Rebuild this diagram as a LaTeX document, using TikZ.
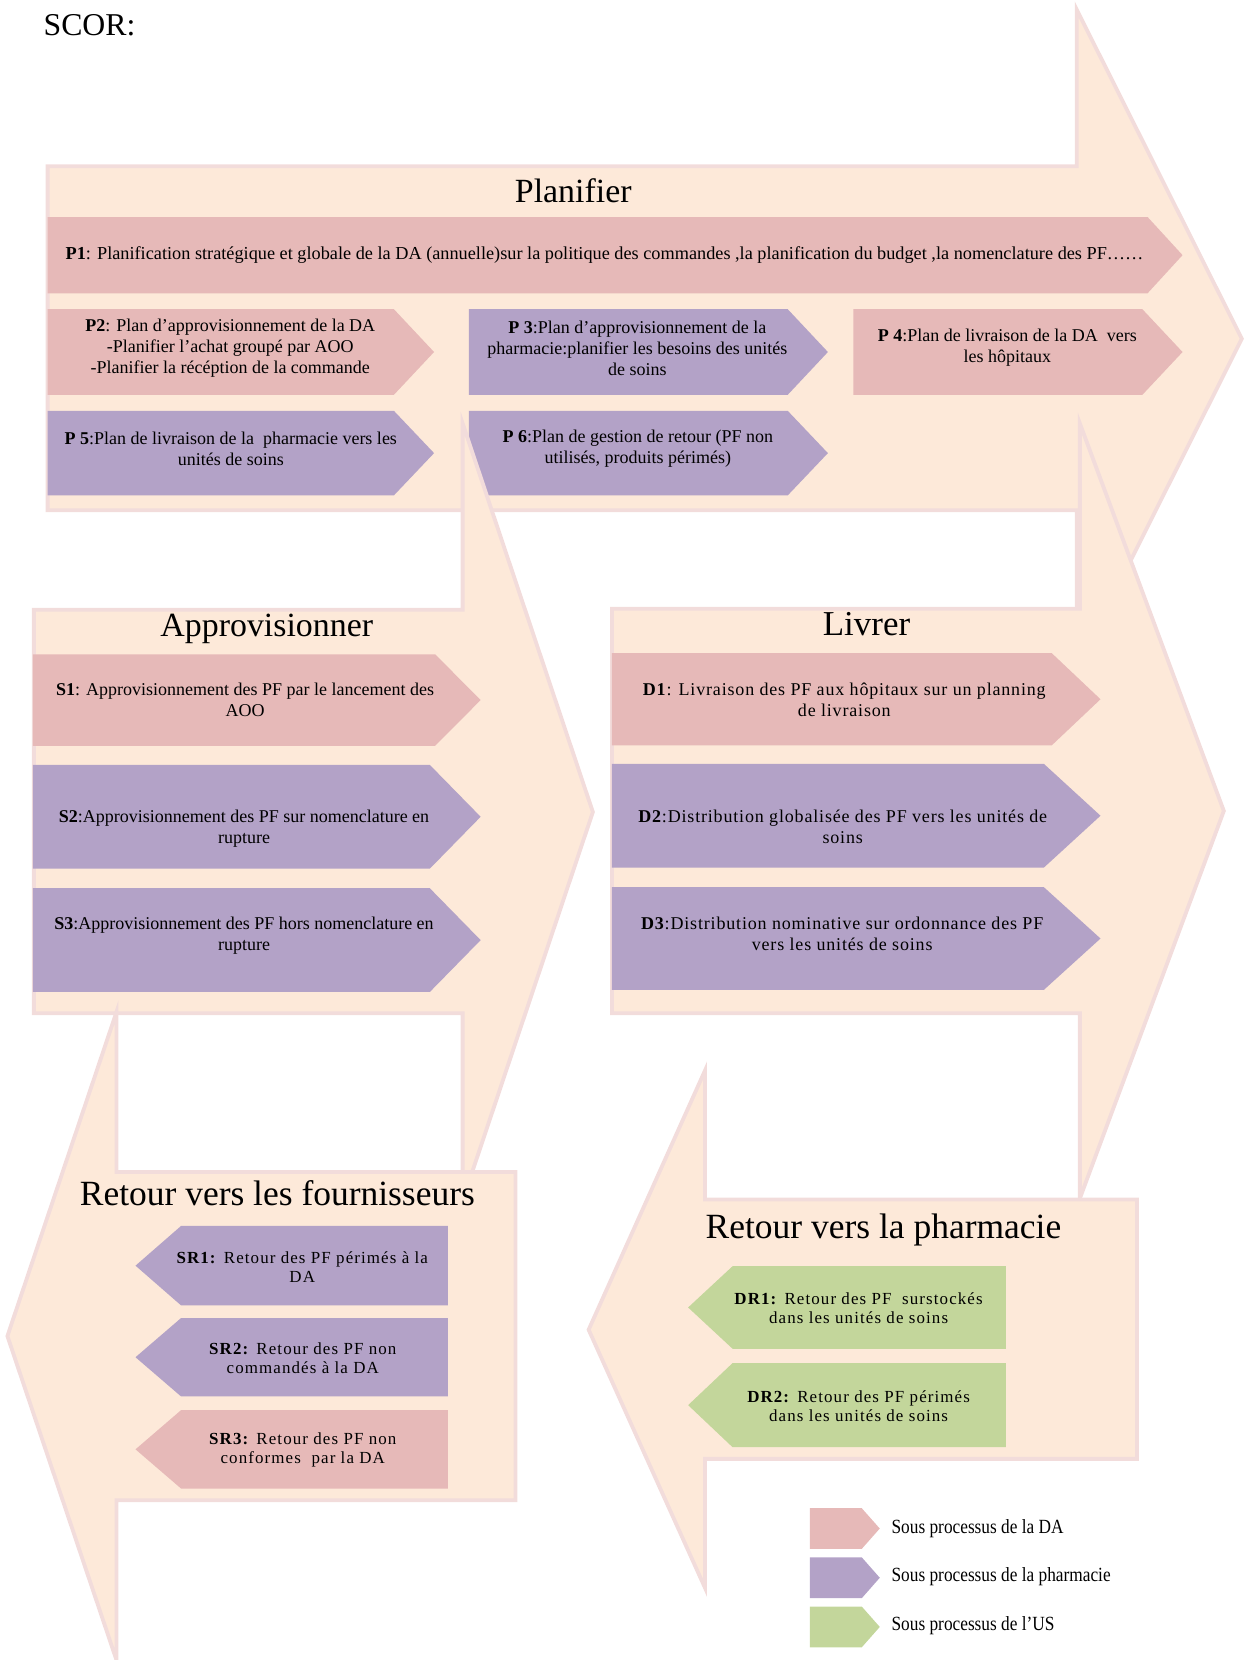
\documentclass[tikz,border=0pt]{standalone}
\usepackage{fontspec}
\setmainfont{Liberation Serif}
\newfontfamily\serifD[LetterSpace=4.6]{Liberation Serif}
\newfontfamily\serifR[LetterSpace=6.5]{Liberation Serif}
\newfontfamily\serifL[FakeStretch=0.86]{Liberation Serif}

\definecolor{peach}{HTML}{FDE9D9}
\definecolor{peachline}{HTML}{F2DCDB}
\definecolor{daPink}{HTML}{E6B9B8}
\definecolor{phPurple}{HTML}{B3A2C7}
\definecolor{usGreen}{HTML}{C3D69B}

% right-pointing process box: x1, y1, x of head start, x of tip, y2, colour
\newcommand\procR[6]{\fill[#6] (#1,#2) -- (#3,#2) -- (#4,{(#2+#5)/2}) -- (#3,#5) -- (#1,#5) -- cycle;}
% left-pointing process box: x of tip, x of head end, x2, y1, y2, colour
\newcommand\procL[6]{\fill[#6] (#1,{(#4+#5)/2}) -- (#2,#4) -- (#3,#4) -- (#3,#5) -- (#2,#5) -- cycle;}

\tikzset{
  bigarrow/.style={fill=peach, draw=peachline, line width=3.6pt, line join=miter},
  arrowtitle/.style={anchor=base, inner sep=0pt, font=\fontsize{32}{36}\selectfont},
  bigtitle/.style={arrowtitle, font=\fontsize{33.5}{38}\selectfont},
  txtP/.style={align=center, inner sep=0pt, font=\fontsize{17}{19.8}\selectfont},
  txtD/.style={align=center, inner sep=0pt, font=\serifD\fontsize{17}{19.8}\selectfont},
  txtR/.style={align=center, inner sep=0pt, font=\serifR\fontsize{16}{18}\selectfont},
  txtL/.style={anchor=base west, inner sep=0pt, font=\serifL\fontsize{19}{22}\selectfont},
}

\begin{document}
\begin{tikzpicture}[x=1pt, y=-1pt]
\useasboundingbox (0,0) rectangle (1177,1568);

\node[anchor=base west, inner sep=0pt, font=\fontsize{30}{34}\selectfont] (scor) at (41,33.7) {SCOR:};

% ---------- Planifier ----------
\draw[bigarrow] (45,157) -- (1017,157) -- (1017,9) -- (1173,320) -- (1017,631)
  -- (1017,482) -- (45,482) -- cycle;
\node[arrowtitle] (planifier) at (541.5,191.3) {Planifier};
\procR{45}{205}{1084}{1117}{277}{daPink}
\procR{45}{292}{372}{410}{373}{daPink}
\procR{443}{292}{744}{782}{373}{phPurple}
\procR{806}{292}{1079}{1117}{373}{daPink}
\procR{45}{388}{372}{410}{468}{phPurple}
\procR{443}{388}{744}{782}{468}{phPurple}
\node[txtP, font=\fontsize{17.25}{19.8}\selectfont] (p1) at (571,241) {\textbf{P1}: Planification stratégique et globale de la DA (annuelle)sur la politique des commandes ,la planification du budget ,la nomenclature des PF……};
\node[txtP] (p2) at (217.5,329) {\textbf{P2}: Plan d’approvisionnement de la DA\\-Planifier l’achat groupé par AOO\\-Planifier la récéption de la commande};
\node[txtP] (p3) at (602,329) {\textbf{P 3}:Plan d’approvisionnement de la\\pharmacie:planifier les besoins des unités\\de soins};
\node[txtP] (p4) at (951.5,328.5) {\textbf{P 4}:Plan de livraison de la DA\ \ vers\\les hôpitaux};
\node[txtP] (p5) at (218,424) {\textbf{P 5}:Plan de livraison de la\ \ pharmacie vers les\\unités de soins};
\node[txtP] (p6) at (602.5,424) {\textbf{P 6}:Plan de gestion de retour (PF non\\utilisés, produits périmés)};

% ---------- Approvisionner ----------
\draw[bigarrow] (32,576) -- (437,576) -- (437,400) -- (560,767) -- (437,1134)
  -- (437,957) -- (32,957) -- cycle;
\node[arrowtitle] (appro) at (252,600.8) {Approvisionner};
\procR{31}{618}{411}{454}{704.5}{daPink}
\procR{31}{722.5}{406}{454}{820.5}{phPurple}
\procR{31}{839}{406}{454}{937}{phPurple}
\node[txtP] (s1) at (231.5,661.5) {\textbf{S1}: Approvisionnement des PF par le lancement des\\AOO};
\node[txtP] (s2) at (230.5,782.5) {\textbf{S2}:Approvisionnement des PF sur nomenclature en\\rupture};
\node[txtP] (s3) at (230.5,883.5) {\textbf{S3}:Approvisionnement des PF hors nomenclature en\\rupture};

% ---------- Livrer ----------
\draw[bigarrow] (578,575) -- (1020,575) -- (1020,400) -- (1156,766) -- (1020,1132)
  -- (1020,957) -- (578,957) -- cycle;
\node[arrowtitle, font=\fontsize{33}{38}\selectfont] (livrer) at (818.5,600.6) {Livrer};
\procR{578}{617}{993.5}{1039.5}{704}{daPink}
\procR{578}{721.5}{986}{1039.5}{819.5}{phPurple}
\procR{578}{838}{986}{1039.5}{935}{phPurple}
\node[txtD] (d1) at (797.5,661) {\textbf{D1}: Livraison des PF aux hôpitaux sur un planning\\de livraison};
\node[txtD] (d2) at (796,781) {\textbf{D2}:Distribution globalisée des PF vers les unités de\\soins};
\node[txtD] (d3) at (795.5,882.5) {\textbf{D3}:Distribution nominative sur ordonnance des PF\\vers les unités de soins};

% ---------- Retour vers les fournisseurs ----------
\draw[bigarrow] (487,1107) -- (110,1107) -- (110,956) -- (7,1262) -- (110,1568)
  -- (110,1417) -- (487,1417) -- cycle;
\node[bigtitle] (retfour) at (262,1138.6) {Retour vers les fournisseurs};
\procL{128}{171}{423}{1158}{1233}{phPurple}
\procL{128}{171}{423}{1245}{1319}{phPurple}
\procL{128}{171}{423}{1332}{1406}{daPink}
\node[txtR] (sr1) at (285.5,1196.5) {\textbf{SR1:} Retour des PF périmés à la\\DA};
\node[txtR] (sr2) at (286,1283) {\textbf{SR2:} Retour des PF non\\commandés à la DA};
\node[txtR] (sr3) at (286,1369.6) {\textbf{SR3:} Retour des PF non\\conformes\ \ par la DA};

% ---------- Retour vers la pharmacie ----------
\draw[bigarrow] (1074,1133) -- (666,1133) -- (666,1011) -- (556,1256) -- (666,1500)
  -- (666,1378) -- (1074,1378) -- cycle;
\node[bigtitle] (retpharma) at (834.5,1170) {Retour vers la pharmacie};
\procL{650}{692}{950}{1196}{1274}{usGreen}
\procL{650}{692}{950}{1287.5}{1367}{usGreen}
\node[txtR] (dr1) at (811,1235.5) {\textbf{DR1:} Retour des PF\ \ surstockés\\dans les unités de soins};
\node[txtR] (dr2) at (811,1328) {\textbf{DR2:} Retour des PF périmés\\dans les unités de soins};

% ---------- Legend ----------
\procR{765}{1424.6}{814}{831}{1463}{daPink}
\procR{765}{1471}{814}{831}{1509.6}{phPurple}
\procR{765}{1517.5}{814}{831}{1556}{usGreen}
\node[txtL] (leg1) at (842,1448.5) {Sous processus de la DA};
\node[txtL] (leg2) at (842,1494) {Sous processus de la pharmacie};
\node[txtL] (leg3) at (842,1540) {Sous processus de l’US};
\end{tikzpicture}
\end{document}
